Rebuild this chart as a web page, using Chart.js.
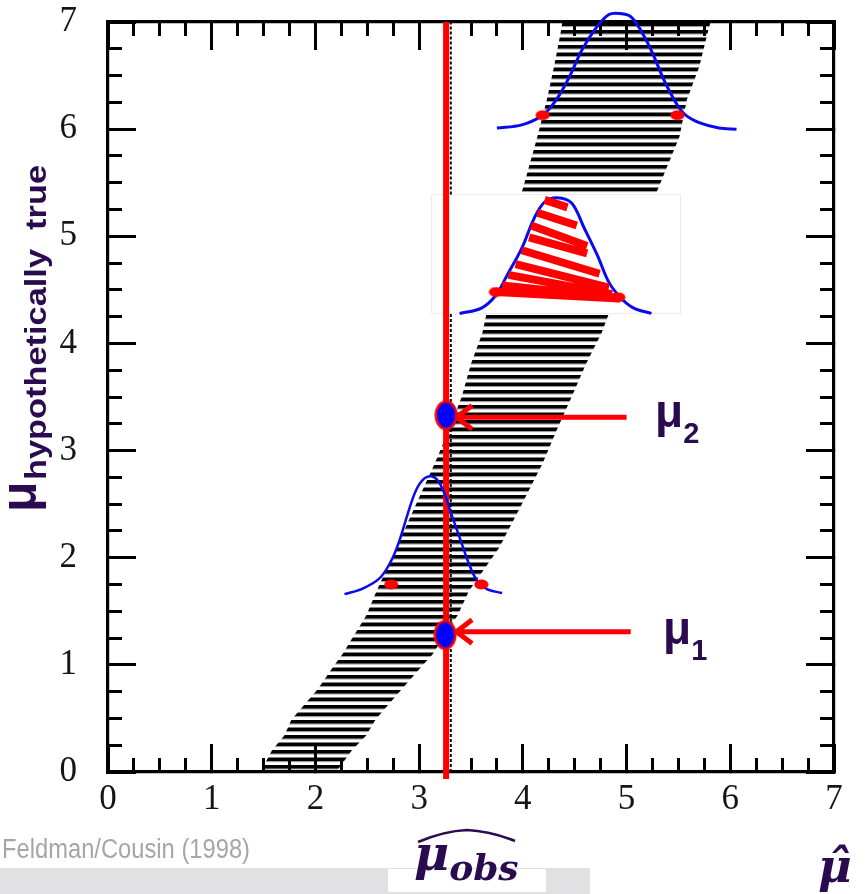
<!DOCTYPE html>
<html><head><meta charset="utf-8">
<script src="https://cdn.jsdelivr.net/npm/chart.js@4.4.1/dist/chart.umd.min.js"></script>
<style>
html,body{margin:0;padding:0;background:#fff;}
#wrap{position:relative;width:865px;height:894px;overflow:hidden;background:#fff;}
#c{position:absolute;left:0;top:0;}
#ov{position:absolute;left:0;top:0;pointer-events:none;}
</style></head><body>
<div id="wrap">
<canvas id="c" width="865" height="894"></canvas>
<svg id="ov" width="865" height="894" xmlns="http://www.w3.org/2000/svg">
  <rect x="0" y="868" width="590" height="26" fill="#e1e1e3"/>
  <rect x="388" y="869" width="158" height="23" fill="#ffffff"/>
  <text x="2" y="858" font-family="Liberation Sans Narrow, Liberation Sans, Arial" font-size="27" fill="#a6a6a6" textLength="248" lengthAdjust="spacingAndGlyphs">Feldman/Cousin (1998)</text>
  <g font-family="DejaVu Serif" font-weight="bold" font-style="italic" fill="#2b0b4f">
    <text x="414" y="870" font-size="48">μ<tspan font-size="36" dy="10">obs</tspan></text>
    <text x="818" y="882" font-size="46">μ̂</text>
  </g>
  <path d="M418,842 Q444,831 467,830 Q490,831 515,841" stroke="#2b0b4f" stroke-width="2.5" fill="none"/>
  <g font-family="Liberation Sans, Arial" font-weight="bold" fill="#2b0b4f">
    <text x="655" y="427" font-size="46">μ<tspan font-size="29" dy="16">2</tspan></text>
    <text x="663" y="644" font-size="46">μ<tspan font-size="29" dy="16">1</tspan></text>
    <text transform="translate(36,512) rotate(-90)" font-size="50">μ</text>
    <text transform="translate(46,480) rotate(-90)" font-size="30" textLength="315" lengthAdjust="spacingAndGlyphs" style="white-space:pre">hypothetically  true</text>
  </g>
</svg>
</div>
<script>
// ---------- data ----------
const xTickLabels = ['0','1','2','3','4','5','6','7'];
const yTickLabels = ['0','1','2','3','4','5','6','7'];
const majorTicks = [0,1,2,3,4,5,6,7];
const minorTicks = [0,0.25,0.5,0.75,1,1.25,1.5,1.75,2,2.25,2.5,2.75,3,3.25,3.5,3.75,4,4.25,4.5,4.75,5,5.25,5.5,5.75,6,6.25,6.5,6.75,7];

// confidence belt edges (mu_true vs mu_hat)
const beltMu    = [0,    0.20, 0.34, 0.49, 0.77, 0.98, 1.10, 1.46, 1.69, 2.09, 2.50, 2.88, 3.20, 3.50, 3.81, 4.10, 4.28, 5.41, 5.93, 6.27, 6.58, 6.93, 7.00];
const beltLeft  = [1.47, 1.58, 1.70, 1.77, 2.02, 2.17, 2.26, 2.49, 2.59, 2.78, 2.97, 3.15, 3.29, 3.41, 3.50, 3.61, 3.65, 3.99, 4.14, 4.23, 4.30, 4.37, 4.38];
const beltRight = [2.20, 2.35, 2.49, 2.58, 2.83, 3.02, 3.13, 3.37, 3.48, 3.77, 3.99, 4.19, 4.33, 4.47, 4.61, 4.76, 4.83, 5.29, 5.51, 5.58, 5.70, 5.79, 5.81];

// white inset box
const boxX = [3.12, 3.12, 5.52, 5.52, 3.12];
const boxY = [4.28, 5.39, 5.39, 4.28, 4.28];

// gaussian sketches
const gaussTopX = [3.75, 3.99, 4.19, 4.32, 4.45, 4.57, 4.71, 4.83, 4.93, 5.04, 5.15, 5.25, 5.36, 5.48, 5.57, 5.70, 5.89, 6.06];
const gaussTopY = [6.01, 6.04, 6.13, 6.27, 6.49, 6.74, 6.95, 7.07, 7.08, 7.05, 6.90, 6.71, 6.46, 6.24, 6.13, 6.06, 6.01, 6.00];
const gaussMidX = [3.39, 3.60, 3.74, 3.85, 3.99, 4.11, 4.21, 4.33, 4.47, 4.59, 4.72, 4.83, 4.95, 5.07, 5.24];
const gaussMidY = [4.28, 4.33, 4.45, 4.64, 4.89, 5.17, 5.32, 5.36, 5.31, 5.08, 4.82, 4.57, 4.42, 4.33, 4.28];
const gaussLowX = [2.28, 2.45, 2.62, 2.73, 2.81, 2.89, 2.97, 3.05, 3.12, 3.18, 3.24, 3.31, 3.39, 3.47, 3.55, 3.65, 3.80];
const gaussLowY = [1.66, 1.71, 1.81, 1.97, 2.16, 2.41, 2.63, 2.74, 2.76, 2.72, 2.61, 2.41, 2.19, 1.97, 1.80, 1.71, 1.67];
const gaussDotX = [4.19, 5.49, 3.74, 4.92, 2.73, 3.60];
const gaussDotY = [6.13, 6.13, 4.48, 4.43, 1.75, 1.75];

// red hatch strokes in the inset
const stripeX0 = [4.21, 4.14, 4.08, 4.06, 3.99, 3.93, 3.86, 3.80, 3.74];
const stripeY0 = [5.34, 5.22, 5.10, 4.99, 4.87, 4.74, 4.64, 4.54, 4.48];
const stripeX1 = [4.43, 4.52, 4.62, 4.62, 4.74, 4.83, 4.86, 4.90, 4.93];
const stripeY1 = [5.27, 5.10, 4.91, 4.84, 4.65, 4.52, 4.46, 4.43, 4.42];

// observed value and the two limits
const muObs = 3.26;
const muObsDashed = 3.305;
const limitMu = [3.33, 1.28];
const limitX = [3.26, 3.25];
const arrowY = [3.31, 1.31];
const arrowTailX = [5.00, 5.04];
const arrowTipX = 3.36;

// ---------- build ----------
const ctxMain = document.getElementById('c').getContext('2d');
function stripePattern(){
  const c = document.createElement('canvas'); c.width = 8; c.height = 15;
  const g = c.getContext('2d');
  g.fillStyle = '#fff'; g.fillRect(0,0,8,15);
  g.fillStyle = '#000'; g.fillRect(0,0,8,3.6); g.fillRect(0,7.5,8,3.6);
  g.fillStyle = 'rgba(0,0,0,0.35)'; g.fillRect(0,3.6,8,1); g.fillRect(0,11.1,8,1);
  return ctxMain.createPattern(c,'repeat');
}
function ellipseImg(w,h,fill,stroke,lw){
  const c = document.createElement('canvas'); c.width = w; c.height = h;
  const g = c.getContext('2d');
  g.beginPath(); g.ellipse(w/2,h/2,w/2-(lw||0)/2-0.5,h/2-(lw||0)/2-0.5,0,0,Math.PI*2);
  g.fillStyle = fill; g.fill();
  if (lw){ g.lineWidth = lw; g.strokeStyle = stroke; g.stroke(); }
  return c;
}
const pts = (xs, ys) => xs.map((x,i)=>({x, y: ys[i]}));
const GAP = {x: null, y: null};

const beltPts = pts(beltLeft, beltMu).concat(pts(beltRight, beltMu).reverse());
const stripePts = [];
stripeX0.forEach((x,i)=>{ stripePts.push({x, y: stripeY0[i]}, {x: stripeX1[i], y: stripeY1[i]}, GAP); });
const arrowPts = [];
arrowY.forEach((y,i)=>{
  arrowPts.push({x: arrowTailX[i], y}, {x: arrowTipX, y}, GAP);
  arrowPts.push({x: arrowTipX+0.15, y: y+0.11}, {x: arrowTipX, y}, {x: arrowTipX+0.15, y: y-0.11}, GAP);
});

const lineDS = (label, data, color, width, order, extra) => Object.assign({
  label, data, showLine: true, borderColor: color, borderWidth: width, pointRadius: 0,
  fill: false, order, tension: 0
}, extra || {});

const datasets = [
  lineDS('belt', beltPts, 'rgba(0,0,0,0)', 0, 100, {fill: 'shape', backgroundColor: stripePattern()}),
  lineDS('inset', pts(boxX, boxY), '#ececec', 1, 90, {fill: 'shape', backgroundColor: '#ffffff'}),
  lineDS('dashed', [{x: muObsDashed, y: 0}, {x: muObsDashed, y: 4.28}, GAP, {x: muObsDashed, y: 5.39}, {x: muObsDashed, y: 7}], '#000', 2, 80, {borderDash: [3,2]}),
  lineDS('obs', [{x: muObs, y: -0.065}, {x: muObs, y: 7}], '#ff0000', 6, 70, {clip: false}),
  lineDS('gaussTop', pts(gaussTopX, gaussTopY), '#0a0aef', 3, 60, {clip: false, tension: 0.35}),
  lineDS('gaussMid', pts(gaussMidX, gaussMidY), '#0a0aef', 3, 60, {tension: 0.35}),
  lineDS('gaussLow', pts(gaussLowX, gaussLowY), '#0a0aef', 2.5, 60, {tension: 0.35}),
  lineDS('hatch', stripePts, '#ff0000', 8, 50, {borderCapStyle: 'butt'}),
  {label: 'gaussDots', data: pts(gaussDotX, gaussDotY), showLine: false, pointStyle: ellipseImg(15,11,'#ff0000'), pointRadius: 6, order: 40},
  lineDS('arrows', arrowPts, '#ff0000', 5, 30, {borderCapStyle: 'butt', borderJoinStyle: 'miter'}),
  {label: 'limits', data: pts(limitX, limitMu), showLine: false, pointStyle: ellipseImg(24,31,'#0000ff','#ff0000',2.5), pointRadius: 10, order: 20}
];

// size: thickness of the axis box; labelArr: tick labels (only on the labelled axes)
function axis(pos, vals, len, withBorder, labelArr, size) {
  const horiz = (pos === 'top' || pos === 'bottom');
  return {
    type: 'linear', position: pos, axis: horiz ? 'x' : 'y', min: 0, max: 7,
    weight: size ? 10 : 0,
    afterBuildTicks: s => { s.ticks = vals.map(v => ({value: v})); },
    afterFit: s => {
      if (horiz) s.height = size || 0; else s.width = size || 0;
      s.paddingTop = s.paddingBottom = s.paddingLeft = s.paddingRight = 0;
    },
    grid: {display: true, drawOnChartArea: false, drawTicks: true, tickLength: -len, tickWidth: 3, tickColor: '#000', lineWidth: 1},
    border: {display: withBorder, width: 3.2, color: '#000'},
    ticks: {
      display: !!labelArr, autoSkip: false, maxRotation: 0, minRotation: 0,
      padding: horiz ? 35 : 59,
      color: '#151515',
      font: {family: 'Liberation Serif', size: 35},
      callback: v => labelArr ? labelArr[Math.round(v)] : ''
    }
  };
}

new Chart(ctxMain, {
  type: 'scatter',
  data: {datasets},
  options: {
    responsive: false, animation: false, events: [],
    layout: {padding: {left: 0, right: 31, top: 22, bottom: 0}},
    plugins: {legend: {display: false}, tooltip: {enabled: false}, filler: {drawTime: 'beforeDraw'}},
    scales: {
      x:   axis('bottom', majorTicks, 28, true, xTickLabels, 122),
      xm:  axis('bottom', minorTicks, 14, false, null, 0),
      x2:  axis('top', majorTicks, 28, true, null, 0),
      x2m: axis('top', minorTicks, 14, false, null, 0),
      y:   axis('left', majorTicks, 28, true, yTickLabels, 108),
      ym:  axis('left', minorTicks, 14, false, null, 0),
      y2:  axis('right', majorTicks, 28, true, null, 0),
      y2m: axis('right', minorTicks, 14, false, null, 0)
    }
  }
});
</script>
</body></html>
